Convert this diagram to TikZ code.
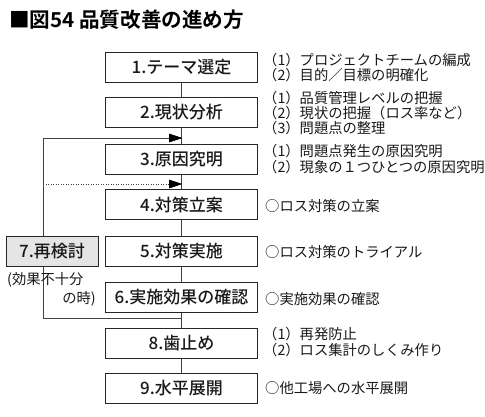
\documentclass[tikz,border=0pt]{standalone}
\usepackage{fontspec}
\setmainfont{Noto Sans CJK JP}[BoldFont={Noto Sans CJK JP Bold}]
\newfontfamily\jpmed{Noto Sans CJK JP Medium}
\usetikzlibrary{backgrounds}
\tikzset{
  stepbox/.style={draw=black!85, line width=0.9pt, fill=white, minimum width=152pt, minimum height=30pt, inner sep=0pt, font=\jpmed\fontsize{17}{17}\selectfont, text=black!90},
  note/.style={anchor=west, inner sep=0pt, font=\fontsize{14.3}{15}\selectfont, text=black!90},
  conn/.style={draw=black!75, line width=0.7pt},
  tiphead/.style={draw=black, fill=black, line width=0.6pt, line join=miter}
}
\begin{document}
\begin{tikzpicture}[x=1pt,y=1pt]
\useasboundingbox (0,0) rectangle (485,-416);
\node[anchor=west, inner sep=0pt, font=\fontsize{20.6}{21}\selectfont\bfseries] (title) at (9,-20) {■図54 品質改善の進め方};
\node[stepbox] (s1) at (181.5,-67) {1.テーマ選定};
\node[stepbox] (s2) at (181.5,-112) {2.現状分析};
\node[stepbox] (s3) at (181.5,-159) {3.原因究明};
\node[stepbox] (s4) at (181.5,-204.5) {4.対策立案};
\node[stepbox] (s5) at (181.5,-251) {5.対策実施};
\node[stepbox] (s6) at (181.5,-297) {6.実施効果の確認};
\node[stepbox] (s8) at (181.5,-343) {8.歯止め};
\node[stepbox] (s9) at (181.5,-388.5) {9.水平展開};
\node[stepbox, fill=black!10, minimum width=92pt] (s7) at (52,-251) {7.再検討};
\node[note] (c7a) at (7,-280) {(効果不十分};
\node[note, anchor=east] (c7b) at (96,-299) {の時)};
\coordinate (fbtop) at (43,-138);
\coordinate (fbbot) at (43,-318);
\coordinate (dotst) at (43,-184);
\node[note] (n1a) at (263,-60) {（1）プロジェクトチームの編成};
\node[note] (n1b) at (263,-75) {（2）目的／目標の明確化};
\node[note] (n2a) at (263,-98) {（1）品質管理レベルの把握};
\node[note] (n2b) at (263,-113) {（2）現状の把握（ロス率など）};
\node[note] (n2c) at (263,-128) {（3）問題点の整理};
\node[note] (n3a) at (263,-151) {（1）問題点発生の原因究明};
\node[note] (n3b) at (263,-167) {（2）現象の１つひとつの原因究明};
\node[note] (n4) at (265,-206) {○ロス対策の立案};
\node[note] (n5) at (265,-252) {○ロス対策のトライアル};
\node[note] (n6) at (265,-299) {○実施効果の確認};
\node[note] (n8a) at (263,-334) {（1）再発防止};
\node[note] (n8b) at (263,-350) {（2）ロス集計のしくみ作り};
\node[note] (n9) at (265,-388) {○他工場への水平展開};
\begin{pgfonlayer}{background}
\draw[conn] (s1) -- (s2);
\draw[conn] (s2) -- (s3);
\draw[conn] (s3) -- (s4);
\draw[conn] (s4) -- (s5);
\draw[conn] (s5) -- (s6);
\draw[conn] (s6) -- (s8);
\draw[conn] (s8) -- (s9);
\draw[conn] (s6.south |- fbbot) -- (fbbot) -- (fbtop) -- (fbtop -| s2.south);
\draw[conn, dash pattern=on 1pt off 1.5pt] (dotst) -- ([xshift=-10pt]dotst -| s3.south);
\end{pgfonlayer}
\filldraw[tiphead] (fbtop -| s2.south) -- ++(-12,4) -- ++(0,-8) -- cycle;
\filldraw[tiphead] (dotst -| s3.south) -- ++(-12,4) -- ++(0,-8) -- cycle;
\end{tikzpicture}
\end{document}
